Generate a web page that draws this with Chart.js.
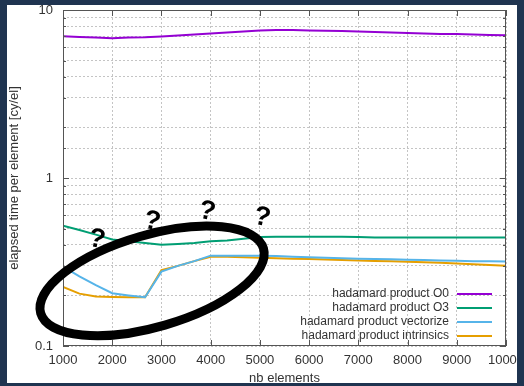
<!DOCTYPE html>
<html>
<head>
<meta charset="utf-8">
<script src="https://cdn.jsdelivr.net/npm/chart.js@4.4.1/dist/chart.umd.min.js"></script>
<style>
    html, body { margin: 0; padding: 0; background: #1f3450; }
    #frame { position: absolute; left: 7px; top: 5px; width: 510px; height: 378px; background: #fff; overflow: hidden; }
    #wrap { position: absolute; left: -7px; top: -5px; width: 524px; height: 386px; }
</style>
</head>
<body>
<div id="frame"><div id="wrap"><canvas id="chart" width="524" height="386"></canvas></div></div>
<script>
// nb elements (one point every ~333 elements)
const sizes = [1000, 1333, 1667, 2000, 2333, 2667, 3000, 3333, 3667, 4000, 4333, 4667, 5000, 5333,
    5667, 6000, 6333, 6667, 7000, 7333, 7667, 8000, 8333, 8667, 9000, 9333, 9667, 10000];

const labels = ['hadamard product O0', 'hadamard product O3', 'hadamard product vectorize', 'hadamard product intrinsics'];
const colors = ['#9400d3', '#009e73', '#56b4e9', '#e69f00'];

const timeO0 = [6.97, 6.9, 6.85, 6.8, 6.85, 6.88, 6.95, 7.05, 7.15, 7.25, 7.35, 7.45, 7.55, 7.6,
    7.6, 7.55, 7.52, 7.5, 7.45, 7.4, 7.35, 7.3, 7.25, 7.2, 7.2, 7.15, 7.1, 7.08];
const timeO3 = [0.52, 0.49, 0.46, 0.43, 0.42, 0.41, 0.40, 0.405, 0.41, 0.42, 0.425, 0.435, 0.445, 0.447,
    0.447, 0.447, 0.447, 0.447, 0.445, 0.443, 0.443, 0.443, 0.443, 0.443, 0.443, 0.443, 0.443, 0.443];
const timeVectorize = [0.297, 0.26, 0.23, 0.206, 0.2, 0.195, 0.277, 0.3, 0.32, 0.345, 0.345, 0.345, 0.345, 0.343,
    0.34, 0.337, 0.335, 0.333, 0.331, 0.33, 0.328, 0.326, 0.325, 0.323, 0.322, 0.32, 0.319, 0.318];
const timeIntrinsics = [0.225, 0.205, 0.197, 0.196, 0.195, 0.195, 0.283, 0.3, 0.32, 0.34, 0.34, 0.338, 0.335, 0.333,
    0.331, 0.329, 0.327, 0.325, 0.323, 0.321, 0.319, 0.317, 0.315, 0.313, 0.31, 0.307, 0.303, 0.30];

const series = [timeO0, timeO3, timeVectorize, timeIntrinsics];

// hand-drawn annotation: ellipse around the small sizes, question marks above it
const marks = [[1690, 0.43], [2810, 0.55], [3930, 0.63], [5045, 0.58]];

const FONT = "'Liberation Sans', Arial, sans-serif";
const TEXT = '#333';

const isDecade = (v) => Math.abs(Math.log10(v) - Math.round(Math.log10(v))) < 1e-9;

const gnuplotFrame = {
    id: 'gnuplotFrame',
    afterDatasetsDraw(chart) {
        const { ctx, chartArea: a, scales: { x, y } } = chart;
        ctx.save();
        ctx.strokeStyle = '#555';
        ctx.lineWidth = 1;
        ctx.beginPath();
        x.ticks.forEach((t) => {
            const px = Math.round(x.getPixelForValue(t.value)) + 0.5;
            ctx.moveTo(px, a.bottom); ctx.lineTo(px, a.bottom - 6);
            ctx.moveTo(px, a.top); ctx.lineTo(px, a.top + 6);
        });
        y.ticks.forEach((t) => {
            const py = Math.round(y.getPixelForValue(t.value)) + 0.5;
            const len = isDecade(t.value) ? 6 : 3;
            ctx.moveTo(a.left, py); ctx.lineTo(a.left + len, py);
            ctx.moveTo(a.right, py); ctx.lineTo(a.right - len, py);
        });
        ctx.stroke();
        ctx.strokeRect(a.left + 0.5, a.top + 0.5, a.width - 1, a.height - 1);

        // legend, bottom right inside the plot
        ctx.font = '12px ' + FONT;
        ctx.textAlign = 'right';
        ctx.textBaseline = 'middle';
        ctx.lineWidth = 2;
        labels.forEach((label, i) => {
            const rowY = a.bottom - 52 + i * 14;
            ctx.fillStyle = TEXT;
            ctx.fillText(label, a.right - 57, rowY);
            ctx.strokeStyle = colors[i];
            ctx.beginPath();
            ctx.moveTo(a.right - 49, rowY);
            ctx.lineTo(a.right - 14, rowY);
            ctx.stroke();
        });

        // ellipse
        const cx = x.getPixelForValue(2810);
        const cy = y.getPixelForValue(0.244);
        ctx.strokeStyle = '#000';
        ctx.lineWidth = 9;
        ctx.beginPath();
        ctx.ellipse(cx, cy, 116, 46, -16.2 * Math.PI / 180, 0, Math.PI * 2);
        ctx.stroke();

        ctx.fillStyle = '#000';
        ctx.font = 'bold 27px ' + FONT;
        ctx.textAlign = 'center';
        marks.forEach(([mx, my]) => {
            ctx.save();
            ctx.translate(x.getPixelForValue(mx), y.getPixelForValue(my));
            ctx.rotate(12 * Math.PI / 180);
            ctx.fillText('?', 0, 0);
            ctx.restore();
        });
        ctx.restore();
    },
};

new Chart(document.getElementById('chart'), {
    type: 'line',
    data: {
        datasets: series.map((values, i) => ({
            label: labels[i],
            data: values.map((v, j) => ({ x: sizes[j], y: v })),
            borderColor: colors[i],
            borderWidth: 2,
            pointRadius: 0,
            tension: 0,
        })),
    },
    options: {
        responsive: false,
        animation: false,
        layout: { padding: { top: 10, right: 18, left: 0, bottom: 0 } },
        plugins: {
            legend: { display: false },
            tooltip: { enabled: false },
        },
        scales: {
            x: {
                type: 'linear',
                min: 1000,
                max: 10000,
                afterFit: (scale) => {
                    scale.height = 40;
                    scale.paddingLeft = 0;
                    scale.paddingRight = 0;
                },
                border: { display: false, dash: [2, 2] },
                grid: { color: '#c4c4c4', drawTicks: false },
                ticks: {
                    stepSize: 1000,
                    padding: 7,
                    color: TEXT,
                    font: { family: FONT, size: 13 },
                    callback: (v) => String(v),
                    maxRotation: 0,
                },
                title: {
                    display: true,
                    text: 'nb elements',
                    color: TEXT,
                    font: { family: FONT, size: 13 },
                    padding: { top: 0, bottom: 0 },
                },
            },
            y: {
                type: 'logarithmic',
                min: 0.1,
                max: 10,
                afterFit: (scale) => {
                    scale.width = 63;
                    scale.paddingTop = 0;
                    scale.paddingBottom = 0;
                },
                border: { display: false, dash: [2, 2] },
                grid: { color: '#c4c4c4', drawTicks: false },
                ticks: {
                    autoSkip: false,
                    padding: 10,
                    color: TEXT,
                    font: { family: FONT, size: 13 },
                    callback: (v) => (isDecade(v) ? String(Math.round(v * 10) / 10) : ''),
                },
                title: {
                    display: true,
                    text: 'elapsed time per element [cy/el]',
                    color: TEXT,
                    font: { family: FONT, size: 13 },
                    padding: { top: 7, bottom: 0 },
                },
            },
        },
    },
    plugins: [gnuplotFrame],
});
</script>
</body>
</html>
